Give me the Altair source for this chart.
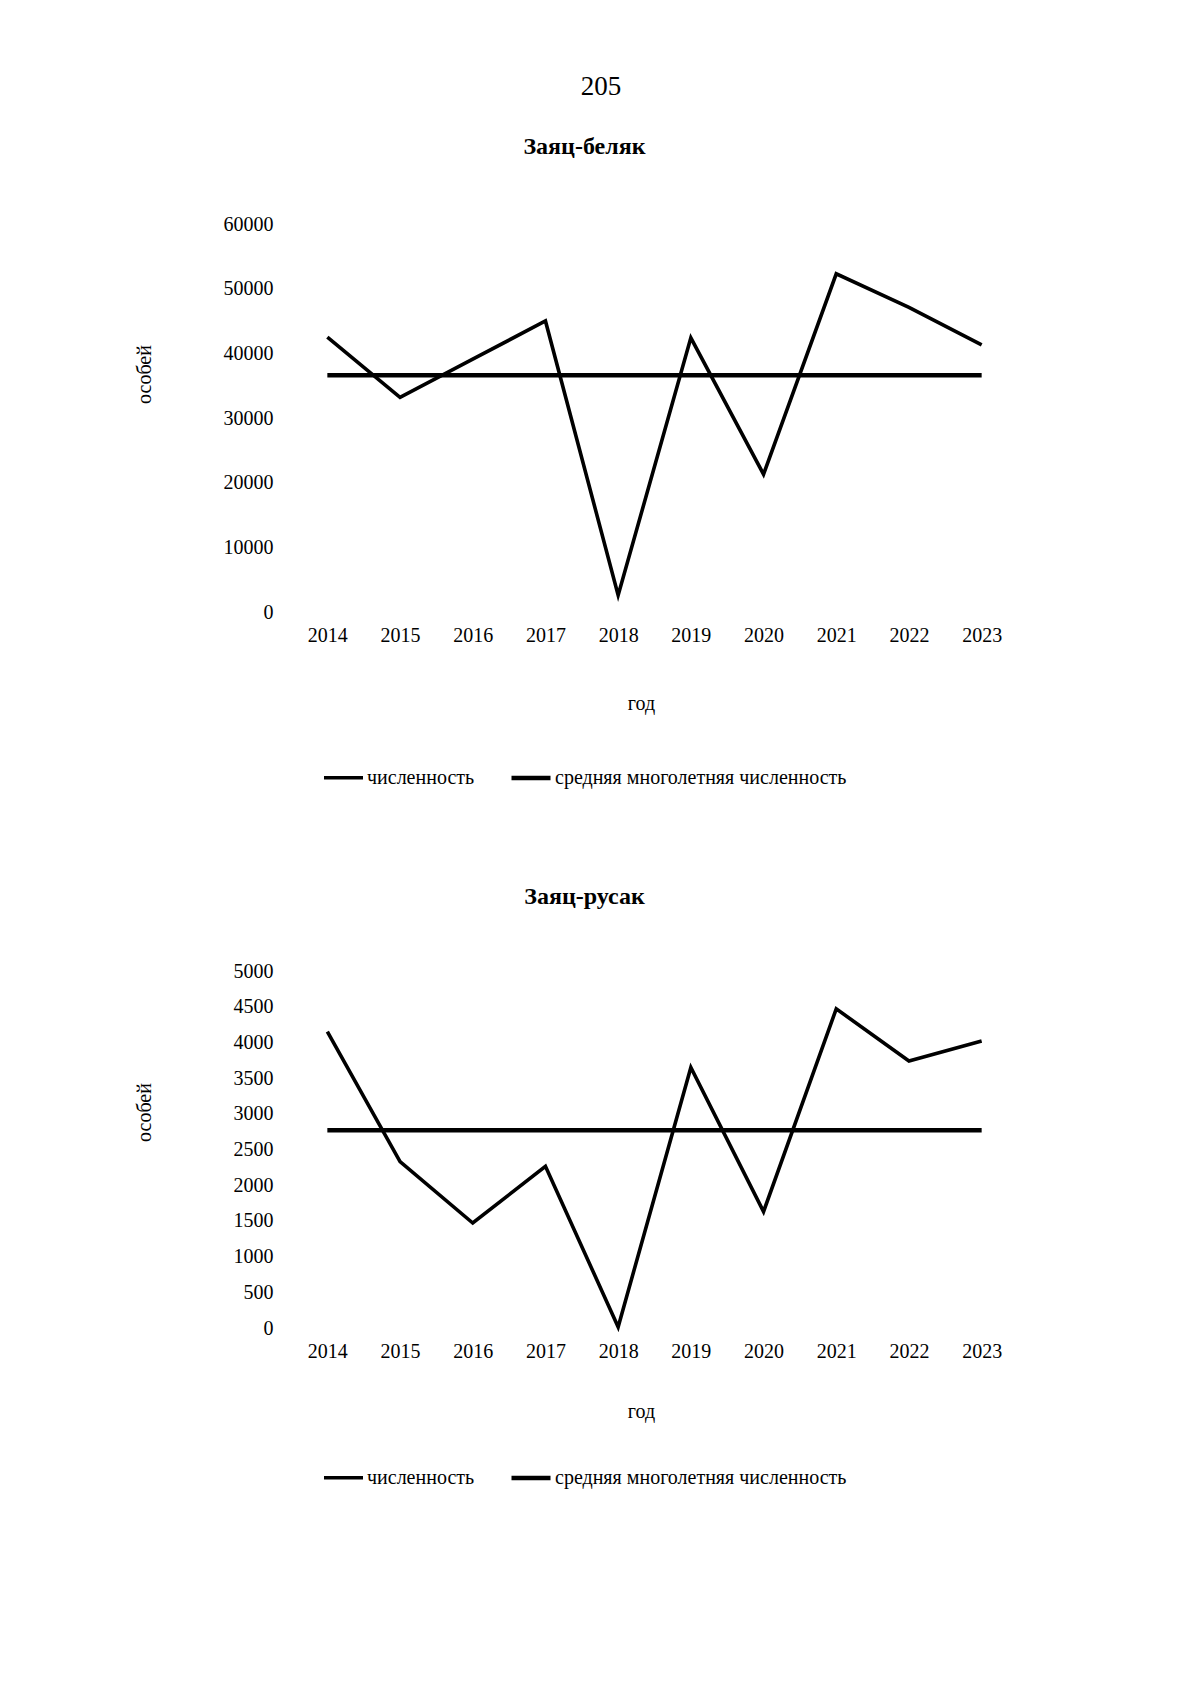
import altair as alt
import pandas as pd

FONT = "Liberation Serif"

years = [2014, 2015, 2016, 2017, 2018, 2019, 2020, 2021, 2022, 2023]
series_names = ["численность", "средняя многолетняя численность"]

belyak = [42500, 33200, 39100, 45000, 2600, 42400, 21300, 52300, 47100, 41300]
belyak_avg = 36600

rusak = [4150, 2330, 1470, 2265, 15, 3650, 1630, 4470, 3740, 4020]
rusak_avg = 2770


def long_df(values, avg):
    rows = []
    for y, v in zip(years, values):
        rows.append({"год": y, "value": v, "series": series_names[0]})
    for y in years:
        rows.append({"год": y, "value": avg, "series": series_names[1]})
    return pd.DataFrame(rows)


def panel(df, title, ymax, ystep, height, title_y, legend_y, title_offset,
          xtitle_pad):
    return alt.Chart(df).mark_line(strokeJoin="miter").encode(
        x=alt.X("год:O",
                scale=alt.Scale(type="point", padding=0.5),
                axis=alt.Axis(labelAngle=0, ticks=False, domain=False,
                              labelPadding=13, title="год",
                              titlePadding=xtitle_pad, titleX=350,
                              labelFontSize=20, titleFontSize=20,
                              titleFontWeight="normal", labelFont=FONT,
                              titleFont=FONT, labelColor="black",
                              titleColor="black")),
        y=alt.Y("value:Q",
                scale=alt.Scale(domain=[0, ymax], nice=False),
                axis=alt.Axis(values=list(range(0, ymax + 1, ystep)),
                              format="d", grid=False, domain=False,
                              ticks=False, labelPadding=18,
                              title="особей", titleX=-147, titleY=title_y,
                              titleAngle=-90, titleAlign="center",
                              titleBaseline="middle", labelFontSize=20,
                              titleFontSize=20, titleFontWeight="normal",
                              labelFont=FONT, titleFont=FONT,
                              labelColor="black", titleColor="black")),
        stroke=alt.Stroke("series:N",
                          scale=alt.Scale(domain=series_names,
                                          range=["black", "black"]),
                          legend=alt.Legend(title=None, orient="none",
                                            legendX=31, legendY=legend_y,
                                            direction="horizontal",
                                            symbolType="stroke",
                                            symbolSize=1521,
                                            symbolStrokeWidth=4.5,
                                            labelFontSize=20,
                                            labelFont=FONT,
                                            labelColor="black",
                                            labelLimit=500,
                                            columnPadding=27,
                                            labelOffset=2)),
        strokeWidth=alt.StrokeWidth("series:N",
                                    scale=alt.Scale(domain=series_names,
                                                    range=[3.6, 4.5]),
                                    legend=None),
    ).properties(
        width=727, height=height,
        title=alt.Title(title, fontSize=24, fontWeight="bold", font=FONT,
                        color="black", offset=title_offset, frame="group",
                        dx=-70, anchor="middle"),
    )


c1 = panel(long_df(belyak, belyak_avg), "Заяц-беляк", 60000, 10000, 388,
           150, 532, 55, 48)
c2 = panel(long_df(rusak, rusak_avg), "Заяц-русак", 5000, 500, 357,
           141, 485, 52, 40)

chart = alt.vconcat(c1, c2, spacing=97).resolve_scale(
    x="independent", y="independent", stroke="independent",
    strokeWidth="independent"
).resolve_legend(stroke="independent").properties(
    title=alt.Title("205", fontSize=27, fontWeight="normal", font=FONT,
                    color="black", anchor="middle", offset=34, dx=25),
    padding={"left": 126, "top": 65, "right": 20, "bottom": 20},
    background="white",
).configure_view(stroke=None)

chart.save("out.html", embed_options={"renderer": "svg", "actions": False})
